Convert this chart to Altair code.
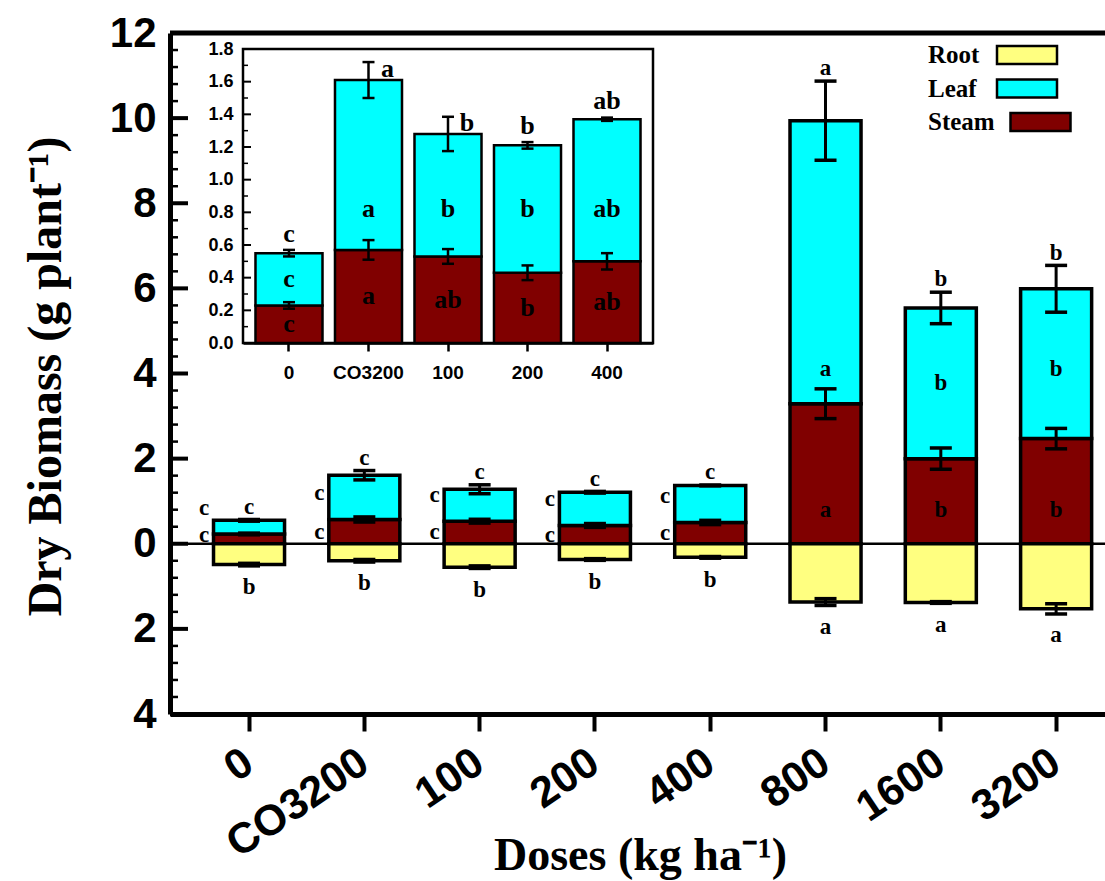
import altair as alt
import pandas as pd

# ---------------- data ----------------
doses = ["0", "CO3200", "100", "200", "400", "800", "1600", "3200"]
steam = [0.23, 0.57, 0.53, 0.43, 0.50, 3.29, 2.00, 2.47]
leaf = [0.32, 1.04, 0.75, 0.78, 0.87, 6.65, 3.54, 3.52]
root = [0.49, 0.40, 0.55, 0.37, 0.32, 1.37, 1.38, 1.53]
steam_err = [0.02, 0.06, 0.045, 0.045, 0.05, 0.35, 0.25, 0.24]
leaf_err = [0.02, 0.11, 0.105, 0.02, 0.01, 0.93, 0.37, 0.55]
root_err = [0.03, 0.03, 0.03, 0.02, 0.02, 0.08, 0.02, 0.12]

top_letters = ["c", "c", "c", "c", "c", "a", "b", "b"]
leaf_letters = ["c", "c", "c", "c", "c", "a", "b", "b"]
steam_letters = ["c", "c", "c", "c", "c", "a", "b", "b"]
root_letters = ["b", "b", "b", "b", "b", "a", "a", "a"]

inset_doses = ["0", "CO3200", "100", "200", "400"]
inset_top_letters = ["c", "a", "b", "b", "ab"]
inset_leaf_letters = ["c", "a", "b", "b", "ab"]
inset_steam_letters = ["c", "a", "ab", "b", "ab"]
inset_beside = ["CO3200", "100"]

parts = ["Root", "Leaf", "Steam"]
part_colors = ["#FFFF80", "#00FFFF", "#800000"]

main_major = [-4, -2, 0, 2, 4, 6, 8, 10, 12]
inset_major = [0.0, 0.2, 0.4, 0.6, 0.8, 1.0, 1.2, 1.4, 1.6, 1.8]

# ---------------- tables ----------------
def bar_table(names):
    rows = []
    for d in names:
        i = doses.index(d)
        s, l, r = steam[i], leaf[i], root[i]
        rows.append(dict(dose=d, part="Steam", lo=0.0, hi=s))
        rows.append(dict(dose=d, part="Leaf", lo=s, hi=s + l))
        rows.append(dict(dose=d, part="Root", lo=-r, hi=0.0))
    return pd.DataFrame(rows)


def err_table(names, with_root=True):
    rows = []
    for d in names:
        i = doses.index(d)
        s, l, r = steam[i], leaf[i], root[i]
        rows.append(dict(dose=d, lo=s - steam_err[i], hi=s + steam_err[i]))
        rows.append(dict(dose=d, lo=s + l - leaf_err[i], hi=s + l + leaf_err[i]))
        if with_root:
            rows.append(dict(dose=d, lo=-r - root_err[i], hi=-r + root_err[i]))
    return pd.DataFrame(rows)


def cap_table(err_df):
    a = err_df[["dose", "lo"]].rename(columns={"lo": "v"})
    b = err_df[["dose", "hi"]].rename(columns={"hi": "v"})
    return pd.concat([a, b], ignore_index=True)


main_bars = bar_table(doses)
main_err = err_table(doses)
main_caps = cap_table(main_err)

center_rows, side_rows = [], []
for i, d in enumerate(doses):
    s, l, r = steam[i], leaf[i], root[i]
    center_rows.append(dict(dose=d, lab=top_letters[i], y=s + l + leaf_err[i] + 0.3))
    center_rows.append(dict(dose=d, lab=root_letters[i], y=-(r + root_err[i]) - 0.5))
    if i < 5:
        side_rows.append(dict(dose=d, lab=leaf_letters[i], y=max(s + l / 2, s + 0.62)))
        side_rows.append(dict(dose=d, lab=steam_letters[i], y=max(s / 2, 0.2)))
    else:
        center_rows.append(dict(dose=d, lab=leaf_letters[i], y=min(s + l / 2, 4.1)))
        center_rows.append(dict(dose=d, lab=steam_letters[i], y=min(s / 2, 0.8)))
main_center_txt = pd.DataFrame(center_rows)
main_side_txt = pd.DataFrame(side_rows)

inset_bars = bar_table(inset_doses)
inset_bars = inset_bars[inset_bars.part != "Root"]
inset_err = err_table(inset_doses, with_root=False)
inset_caps = cap_table(inset_err)

in_center, in_beside = [], []
for j, d in enumerate(inset_doses):
    i = doses.index(d)
    s, l = steam[i], leaf[i]
    top = s + l + leaf_err[i]
    if d in inset_beside:
        in_beside.append(dict(dose=d, lab=inset_top_letters[j], y=top - 0.04))
    else:
        in_center.append(dict(dose=d, lab=inset_top_letters[j], y=top + 0.1))
    in_center.append(dict(dose=d, lab=inset_leaf_letters[j], y=min(s + l / 2, 0.82)))
    in_center.append(dict(dose=d, lab=inset_steam_letters[j], y=s / 2))
inset_center_txt = pd.DataFrame(in_center)
inset_beside_txt = pd.DataFrame(in_beside)

main_minor = [round(-4 + 0.4 * k, 2) for k in range(41)]
main_minor = [v for v in main_minor if all(abs(v - m) > 1e-6 for m in main_major)]
inset_minor = [round(0.1 + 0.2 * k, 2) for k in range(9)]

# ---------------- geometry ----------------
W, H = 935, 681
SANS = "Liberation Sans"
SERIF = "Liberation Serif"

color = alt.Color("part:N", scale=alt.Scale(domain=parts, range=part_colors), legend=None)

main_xs = alt.Scale(domain=doses, paddingInner=0.384, paddingOuter=0.2467, align=0.765)
main_ys = alt.Scale(domain=[-4, 12], nice=False, zero=False)
main_xaxis = alt.Axis(
    title="Doses (kg ha⁻¹)", labelAngle=-34, labelAlign="right", labelBaseline="middle",
    labelFont=SANS, labelFontSize=43, labelFontWeight="bold", labelPadding=27,
    labelOverlap=False, labelBound=False, labelFlush=False,
    tickSize=17, tickWidth=4, tickColor="black", domainWidth=5, domainColor="black",
    titleFont=SERIF, titleFontSize=46, titleFontWeight="bold", titleY=155, titleX=470,
    titleBaseline="alphabetic", titleAlign="center", grid=False,
)
main_yaxis = alt.Axis(
    title="Dry Biomass (g plant⁻¹)", values=main_major, labelExpr="abs(datum.value)",
    ticks=False, tickSize=0, labelPadding=14, labelFont=SANS, labelFontSize=42,
    labelFontWeight="bold", labelOverlap=False, labelFlush=False,
    domainWidth=5, domainColor="black", grid=False,
    titleFont=SERIF, titleFontSize=48, titleFontWeight="bold", titleX=-124, titleY=343,
    titleAngle=-90, titleBaseline="middle", titleAlign="center",
)
MX = alt.X("dose:N", scale=main_xs, axis=main_xaxis)


def MY(field):
    return alt.Y(field, scale=main_ys, axis=main_yaxis)


bars = alt.Chart(main_bars).mark_bar(stroke="black", strokeWidth=3.5).encode(
    x=MX, y=MY("lo:Q"), y2="hi:Q", color=color
)
zero_line = alt.Chart(pd.DataFrame({"v": [0]})).mark_rule(color="black", strokeWidth=2.5).encode(
    y=MY("v:Q"), x=alt.value(0), x2=alt.value(W)
)
top_line = alt.Chart(pd.DataFrame({"v": [12]})).mark_rule(color="black", strokeWidth=5).encode(
    y=MY("v:Q"), x=alt.value(0), x2=alt.value(W)
)
err_rule = alt.Chart(main_err).mark_rule(color="black", strokeWidth=3).encode(
    x=MX, y=MY("lo:Q"), y2="hi:Q"
)
err_cap = alt.Chart(main_caps).mark_tick(color="black", size=22, thickness=3.5, opacity=1).encode(
    x=MX, y=MY("v:Q")
)
txt_center = alt.Chart(main_center_txt).mark_text(
    font=SERIF, fontWeight="bold", fontSize=23, baseline="middle", align="center", color="black"
).encode(x=MX, y=MY("y:Q"), text="lab:N")
txt_side = alt.Chart(main_side_txt).mark_text(
    font=SERIF, fontWeight="bold", fontSize=23, baseline="middle", align="center", dx=-45, color="black"
).encode(x=MX, y=MY("y:Q"), text="lab:N")
major_ticks = alt.Chart(pd.DataFrame({"v": main_major})).mark_rule(color="black", strokeWidth=4).encode(
    y=MY("v:Q"), x=alt.value(0), x2=alt.value(18)
)
minor_ticks = alt.Chart(pd.DataFrame({"v": main_minor})).mark_rule(color="black", strokeWidth=2.5).encode(
    y=MY("v:Q"), x=alt.value(0), x2=alt.value(8)
)

main = alt.layer(bars, zero_line, err_rule, err_cap, txt_center, txt_side,
                 major_ticks, minor_ticks, top_line)

# ---------------- inset ----------------
inset_xs = alt.Scale(domain=inset_doses, range=[73, 483], paddingInner=0.157, paddingOuter=0.157)
inset_ys = alt.Scale(domain=[0, 1.8], range=[310, 16], nice=False, zero=False)
inset_xaxis = alt.Axis(
    orient="bottom", offset=-371, title=None, labelAngle=0, labelFont=SANS, labelFontSize=19,
    labelFontWeight="bold", labelPadding=12, labelBaseline="top", tickSize=8, tickWidth=2.5,
    tickColor="black", domainWidth=2.5, domainColor="black", grid=False,
)
inset_yaxis = alt.Axis(
    orient="left", offset=-73, title=None, values=inset_major, format=".1f", ticks=False,
    tickSize=0, labelPadding=10, labelFont=SANS, labelFontSize=18, labelFontWeight="bold",
    domainWidth=2.5, domainColor="black", grid=False, labelOverlap=False, labelFlush=False,
)
IX = alt.X("dose:N", scale=inset_xs, axis=inset_xaxis)


def IY(field):
    return alt.Y(field, scale=inset_ys, axis=inset_yaxis)


frame = alt.Chart(pd.DataFrame({"v": [0], "w": [1.8]})).mark_rect(
    fill="white", stroke="black", strokeWidth=2.5
).encode(y=IY("v:Q"), y2="w:Q", x=alt.value(73), x2=alt.value(483))
ibars = alt.Chart(inset_bars).mark_bar(stroke="black", strokeWidth=2.5).encode(
    x=IX, y=IY("lo:Q"), y2="hi:Q", color=color
)
ierr = alt.Chart(inset_err).mark_rule(color="black", strokeWidth=2.5).encode(
    x=IX, y=IY("lo:Q"), y2="hi:Q"
)
icap = alt.Chart(inset_caps).mark_tick(color="black", size=12, thickness=2.5, opacity=1).encode(
    x=IX, y=IY("v:Q")
)
itxt = alt.Chart(inset_center_txt).mark_text(
    font=SERIF, fontWeight="bold", fontSize=26, baseline="middle", align="center", color="black"
).encode(x=IX, y=IY("y:Q"), text="lab:N")
itxt_b = alt.Chart(inset_beside_txt).mark_text(
    font=SERIF, fontWeight="bold", fontSize=26, baseline="middle", align="center", dx=19, color="black"
).encode(x=IX, y=IY("y:Q"), text="lab:N")
imaj = alt.Chart(pd.DataFrame({"v": inset_major})).mark_rule(color="black", strokeWidth=2).encode(
    y=IY("v:Q"), x=alt.value(73), x2=alt.value(81)
)
imin = alt.Chart(pd.DataFrame({"v": inset_minor})).mark_rule(color="black", strokeWidth=1.5).encode(
    y=IY("v:Q"), x=alt.value(73), x2=alt.value(78)
)
inset = alt.layer(frame, ibars, ierr, icap, itxt, itxt_b, imaj, imin)

# ---------------- legend ----------------
leg_df = pd.DataFrame({"part": parts})
LY = alt.Y("part:N", scale=alt.Scale(type="point", domain=parts, range=[22, 89], padding=0), axis=None)
leg_text = alt.Chart(leg_df).mark_text(
    font=SERIF, fontWeight="bold", fontSize=25, align="left", baseline="middle", color="black"
).encode(y=LY, x=alt.value(758), text="part:N")
leg_box = alt.Chart(leg_df).transform_calculate(
    bx="758 + 13.5 * length(datum.part) + 45"
).mark_point(
    shape="M-1,-0.3H1V0.3H-1Z", size=3600, filled=True, opacity=1, stroke="black", strokeWidth=2.5
).encode(
    y=LY, x=alt.X("bx:Q", scale=alt.Scale(domain=[0, W], range=[0, W]), axis=None), color=color
)
legend = alt.layer(leg_text, leg_box)

chart = alt.layer(main, inset, legend).resolve_scale(
    x="independent", y="independent"
).properties(
    width=W, height=H,
    autosize=alt.AutoSizeParams(type="none"),
    padding={"left": 170, "top": 33, "right": 0, "bottom": 167},
    background="white",
).configure_view(stroke=None).configure_axis(labelColor="black", titleColor="black")

chart.save("out.html", embed_options={"renderer": "svg", "actions": False})
